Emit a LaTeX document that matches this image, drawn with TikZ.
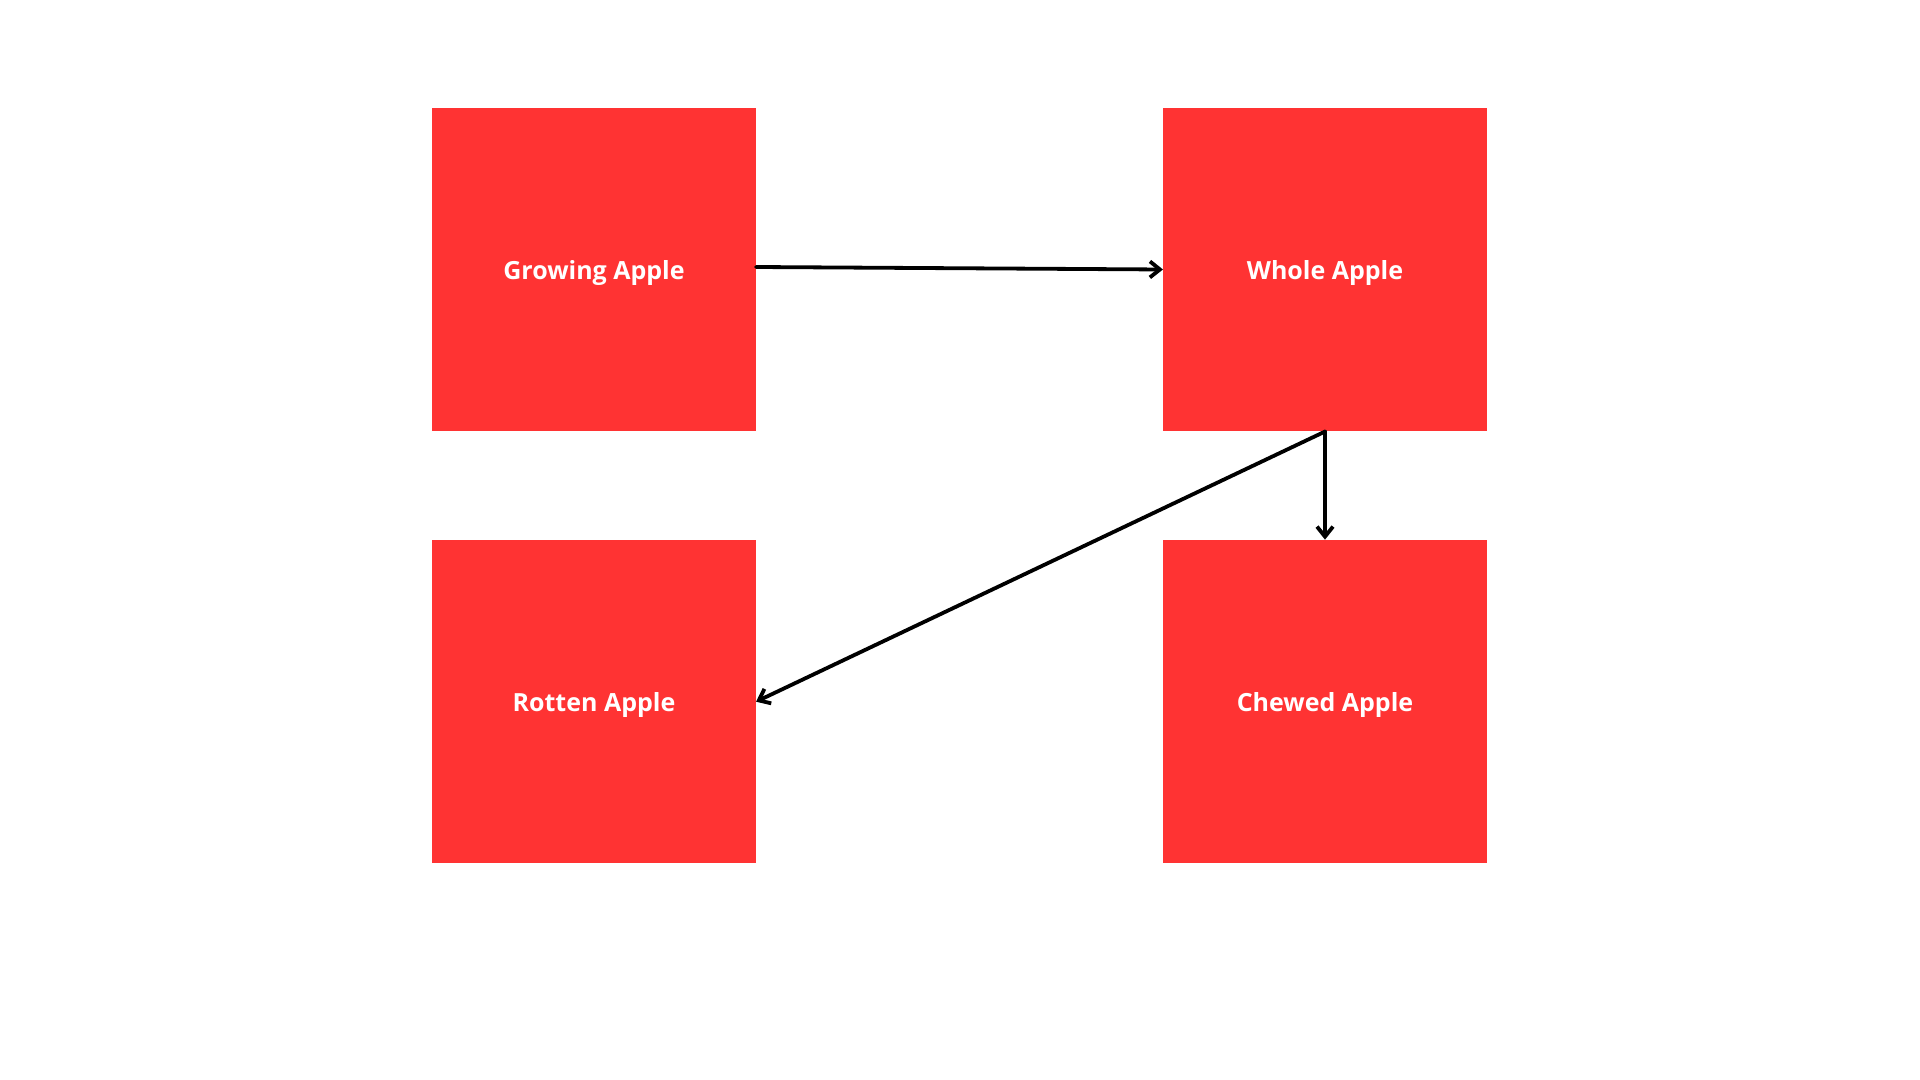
\documentclass[tikz,border=0pt]{standalone}
\usepackage{fontspec}
\setmainfont{Open Sans}
\usetikzlibrary{arrows.meta}
\definecolor{boxred}{HTML}{FF3333}
\begin{document}
\begin{tikzpicture}[x=0.5pt,y=-0.5pt,
  box/.style={fill=boxred,draw=none,minimum width=161.65pt,minimum height=161.65pt,inner sep=0pt},
  lbl/.style={text=white,font=\fontsize{12.5}{14}\selectfont\bfseries,inner sep=0pt},
  conn/.style={draw=black,line width=1.9pt,line cap=round,line join=round,
    -{Straight Barb[length=5pt,width=8pt,line width=1.9pt]}}]
\useasboundingbox (0,0) rectangle (1920,1080);
\node[box] (g) at (594,269.5) {};
\node[box] (w) at (1325,269.5) {};
\node[box] (r) at (594,701.7) {};
\node[box] (c) at (1325,701.7) {};
\node[lbl] (gt) at ([yshift=-1.8pt]g.center) {Growing Apple};
\node[lbl] (wt) at ([yshift=-1.8pt]w.center) {Whole Apple};
\node[lbl] (rt) at ([yshift=-1.8pt]r.center) {Rotten Apple};
\node[lbl] (ct) at ([yshift=-1.8pt]c.center) {Chewed Apple};
\draw[conn] ([yshift=1.25pt]g.east) -- (w.west);
\draw[conn] (w.south) -- (r.east);
\draw[conn] (w.south) -- (c.north);
\end{tikzpicture}
\end{document}
